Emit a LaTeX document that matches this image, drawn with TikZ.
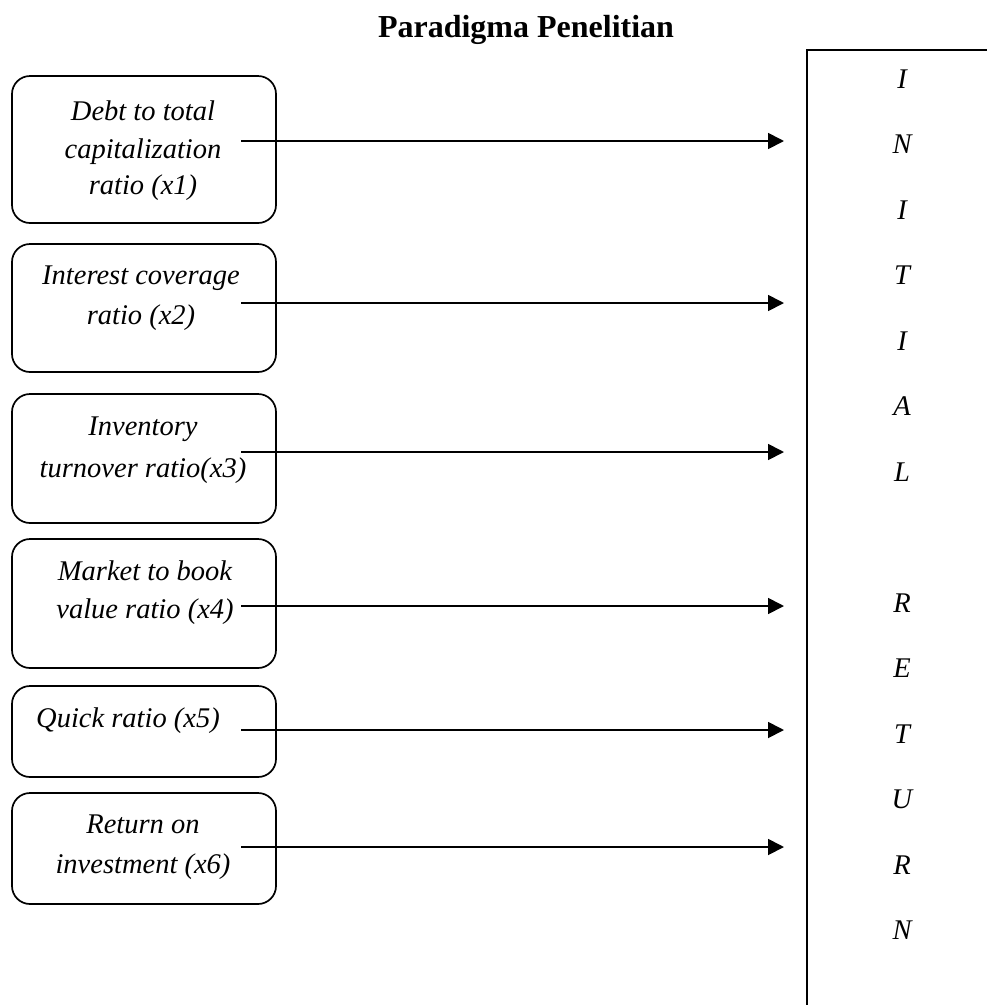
\documentclass[tikz,border=0pt]{standalone}
\usepackage{fontspec}
\setmainfont{Liberation Serif}
\usetikzlibrary{arrows.meta}
\begin{document}
\begin{tikzpicture}[x=1pt,y=-1pt,
  box/.style={draw,line width=1.7pt,rounded corners=18pt,anchor=north west,minimum width=264pt,inner sep=0pt,outer sep=0pt},
  lbl/.style={font=\fontsize{28.5}{39}\selectfont\itshape,inner sep=0pt,anchor=base},
  ltr/.style={font=\fontsize{28.5}{39}\selectfont\itshape,inner sep=0pt},
  arr/.style={line width=1.8pt,-{Triangle[length=16pt,width=16pt]}},
  edge/.style={line width=1.8pt}]
\useasboundingbox (0,0) rectangle (987,1005);
% title
\node[font=\fontsize{32}{38}\selectfont\bfseries,anchor=base,inner sep=0pt] (title) at (526,37) {Paradigma Penelitian};
% left boxes
\node[box,minimum height=147pt] (b1) at (12,76) {};
\node[box,minimum height=128pt] (b2) at (12,244) {};
\node[box,minimum height=129pt] (b3) at (12,394) {};
\node[box,minimum height=129pt] (b4) at (12,539) {};
\node[box,minimum height=91pt] (b5) at (12,686) {};
\node[box,minimum height=111pt] (b6) at (12,793) {};
% texts
\node[lbl] (t1a) at (143,120) {Debt to total};
\node[lbl] (t1b) at (143,158) {capitalization};
\node[lbl] (t1c) at (143,194) {ratio (x1)};
\node[lbl] (t2a) at (141,284) {Interest coverage};
\node[lbl] (t2b) at (141,324) {ratio (x2)};
\node[lbl] (t3a) at (143,435) {Inventory};
\node[lbl] (t3b) at (143,477) {turnover ratio(x3)};
\node[lbl] (t4a) at (145,580) {Market to book};
\node[lbl] (t4b) at (145,618) {value ratio (x4)};
\node[lbl] (t5a) at (128,727) {Quick ratio (x5)};
\node[lbl] (t6a) at (143,833) {Return on};
\node[lbl] (t6b) at (143,873) {investment (x6)};
% right box (open)
\coordinate (rtr) at (987,50);
\coordinate (rtl) at (807,50);
\coordinate (rbl) at (807,1005);
\draw[edge] (rtr) -- (rtl) -- (rbl);
% letters
\foreach \c/\k in {I/0,N/1,I/2,T/3,I/4,A/5,L/6,R/8,E/9,T/10,U/11,R/12,N/13}
  \node[ltr] (L\k) at (902,{79+65.5*\k}) {\c};
% arrows
\foreach \yy [count=\i] in {141,303,452,606,730,847} {
  \coordinate (s\i) at (241,\yy);
  \coordinate (e\i) at (784,\yy);
  \draw[arr] (s\i) -- (e\i);
}
\end{tikzpicture}
\end{document}
